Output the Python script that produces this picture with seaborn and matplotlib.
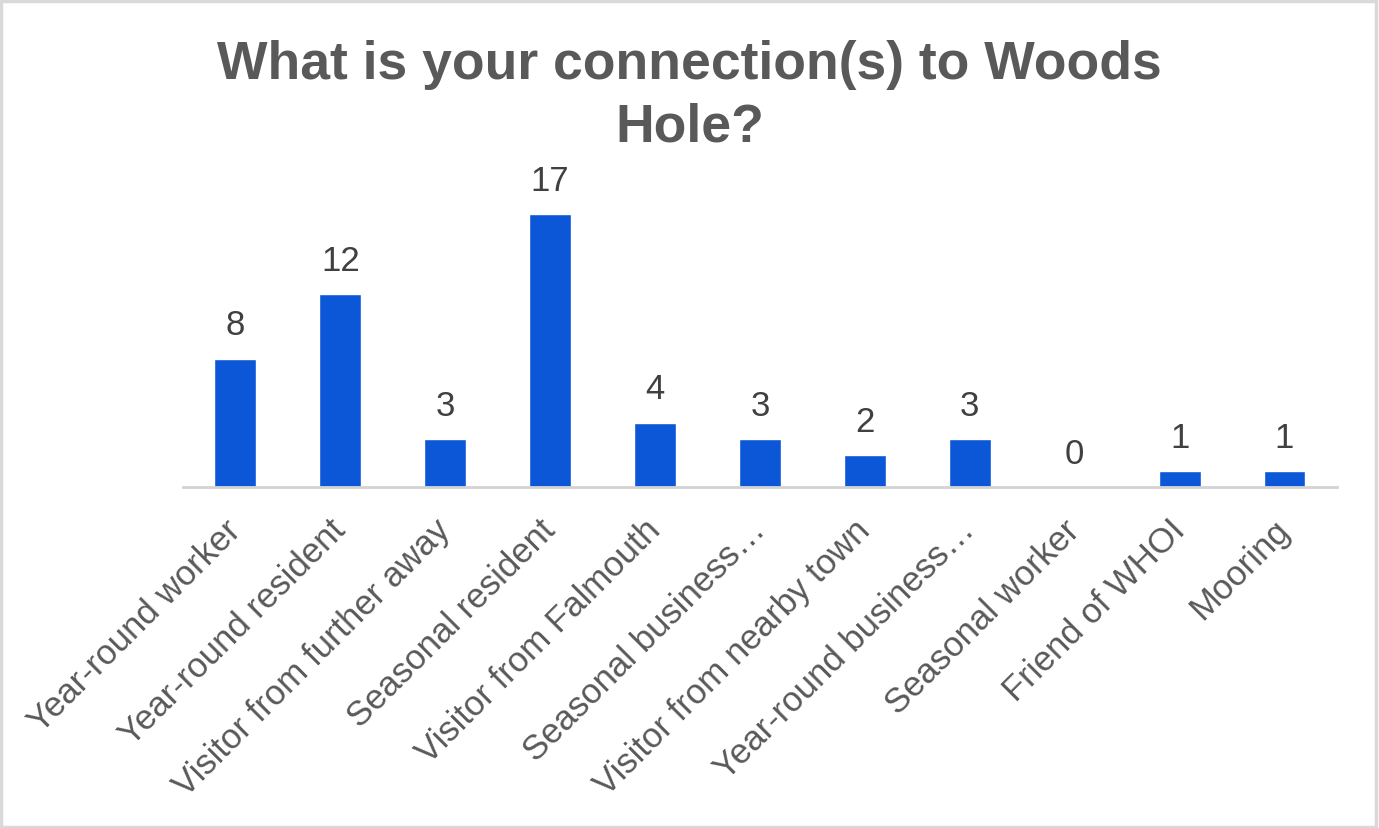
import matplotlib
matplotlib.use("Agg")
import matplotlib.pyplot as plt
from matplotlib.patches import Rectangle
import seaborn as sns
import pandas as pd

categories = [
    "Year-round worker",
    "Year-round resident",
    "Visitor from further away",
    "Seasonal resident",
    "Visitor from Falmouth",
    "Seasonal business…",
    "Visitor from nearby town",
    "Year-round business…",
    "Seasonal worker",
    "Friend of WHOI",
    "Mooring",
]
counts = [8, 12, 3, 17, 4, 3, 2, 3, 0, 1, 1]

title = "What is your connection(s) to Woods\nHole?"

sns.set_theme(style="white")
plt.rcParams["font.family"] = ["Liberation Sans", "DejaVu Sans"]

df = pd.DataFrame({"category": categories, "count": counts})

fig = plt.figure(figsize=(13.79, 8.29), dpi=100)
ax = fig.add_axes([0.1327, 0.4113, 0.8368, 0.3873])

sns.barplot(data=df, x="category", y="count", color="#0c57d8",
            saturation=1, width=0.4, ax=ax)

ax.set_xlim(-0.5, len(categories) - 0.5)
ax.set_ylim(0, 20)
ax.set_xlabel("")
ax.set_ylabel("")
ax.set_yticks([])

for s in ["top", "right", "left"]:
    ax.spines[s].set_visible(False)
ax.spines["bottom"].set_color("#d3d3d3")
ax.spines["bottom"].set_linewidth(2)

ax.tick_params(axis="x", length=0, pad=27)
ax.set_xticks(range(len(categories)))
ax.set_xticklabels(categories, rotation=45, ha="right", va="center",
                   rotation_mode="anchor", fontsize=25, color="#595959")

for i, v in enumerate(counts):
    ax.annotate(str(v), xy=(i, v), xytext=(0, 12.5), textcoords="offset points",
                ha="center", va="bottom", fontsize=25, color="#404040")

fig.text(0.5, 0.884, title, ha="center", va="center", fontsize=38.5,
         fontweight="bold", color="#595959", linespacing=1.32)

fig.patches.append(Rectangle((0.001, 0.001), 0.997, 0.997, transform=fig.transFigure,
                             fill=False, edgecolor="#d9d9d9", linewidth=2.5))

fig.savefig("out.png", dpi=100)
